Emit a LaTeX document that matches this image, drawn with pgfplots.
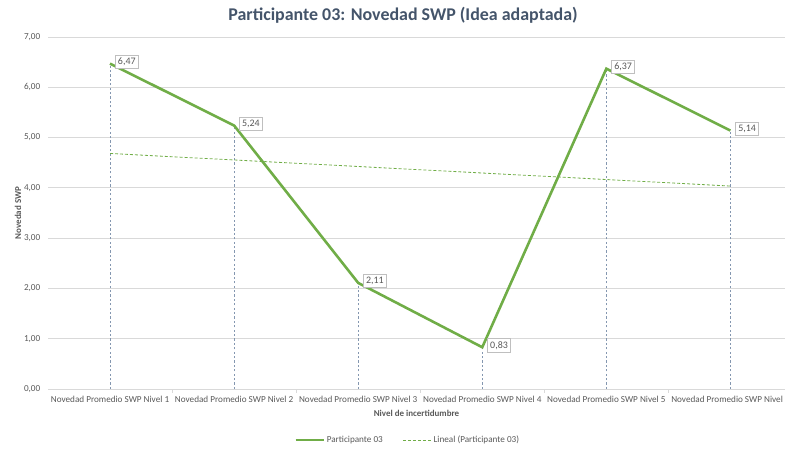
\documentclass[border=0pt]{standalone}
\usepackage{pgfplots}
\pgfplotsset{compat=1.18}
\usepackage{fontspec}
\setmainfont{Carlito}
\definecolor{ttl}{HTML}{44546A}
\definecolor{txt}{HTML}{595959}
\definecolor{grn}{HTML}{70AD47}
\definecolor{grd}{HTML}{D9D9D9}
\definecolor{lbl}{HTML}{BFBFBF}
\definecolor{drop}{HTML}{8497B0}
\begin{document}
\begin{tikzpicture}
\path[use as bounding box] (0,0) rectangle (785bp,452bp);
\node[font=\fontsize{18}{20}\selectfont\bfseries, text=ttl] at (403bp,437bp) {Participante 03: Novedad SWP (Idea adaptada)};
\begin{axis}[
  at={(48bp,63bp)}, anchor=south west,
  scale only axis, width=737bp, height=352bp,
  xmin=-0.5, xmax=5.44, ymin=0, ymax=7,
  xtick={0,...,5},
  xticklabels={Novedad Promedio SWP Nivel 1,Novedad Promedio SWP Nivel 2,Novedad Promedio SWP Nivel 3,Novedad Promedio SWP Nivel 4,Novedad Promedio SWP Nivel 5,Novedad Promedio SWP Nivel 6},
  minor xtick={0.5,1.5,2.5,3.5,4.5},
  major x tick style={draw=none},
  minor tick length=4bp, tick align=outside,
  minor x tick style={grd, line width=0.8pt},
  ytick={0,1,...,7},
  major y tick style={draw=none},
  ymajorgrids, grid style={grd, line width=0.8pt},
  separate axis lines,
  axis x line*=bottom, axis y line*=left,
  x axis line style={grd, line width=0.8pt, -},
  y axis line style={draw=none},
  yticklabel style={/pgf/number format/.cd, fixed, fixed zerofill, precision=2, use comma},
  /pgf/number format/assume math mode=true,
  ticklabel style={font=\fontsize{9.2}{10}\selectfont, text=txt},
  xticklabel style={yshift=1bp},
  xlabel={Nivel de incertidumbre},
  ylabel={Novedad SWP},
  label style={font=\fontsize{9}{10}\selectfont\bfseries, text=txt},
  xlabel style={yshift=-1bp},
  ylabel style={yshift=-4bp},
  legend columns=2,
  legend style={at={(0.488,-0.145)}, anchor=center, draw=none, fill=none,
    font=\fontsize{9.2}{10}\selectfont, text=txt,
    /tikz/every even column/.append style={column sep=18bp}},
  legend image code/.code={\draw[#1] (0bp,0bp) -- (28bp,0bp);},
  clip=false,
]
\addplot[drop, dash pattern=on 2.2bp off 2.2bp, line width=0.8pt, ycomb, forget plot] coordinates {
  (0,6.47) (1,5.24) (2,2.11) (3,0.83) (4,6.37) (5,5.14)};
\addplot[grn, line width=2.6pt, mark=none,
  nodes near coords,
  point meta=explicit symbolic,
  every node near coord/.append style={anchor=west, xshift=5bp, yshift=2bp,
    font=\fontsize{10}{11}\selectfont, text=txt, fill=white, draw=lbl,
    inner sep=2.6bp, line width=0.7pt}]
  coordinates {
  (0,6.47) [6,47] (1,5.24) [5,24] (2,2.11) [2,11] (3,0.83) [0,83] (4,6.37) [6,37] (5,5.14) [5,14]};
\addlegendentry{Participante 03}
\addplot[grn, densely dashed, line width=0.8pt] coordinates {(0,4.684) (5,4.036)};
\addlegendentry{Lineal (Participante 03)}
\end{axis}
\end{tikzpicture}
\end{document}
